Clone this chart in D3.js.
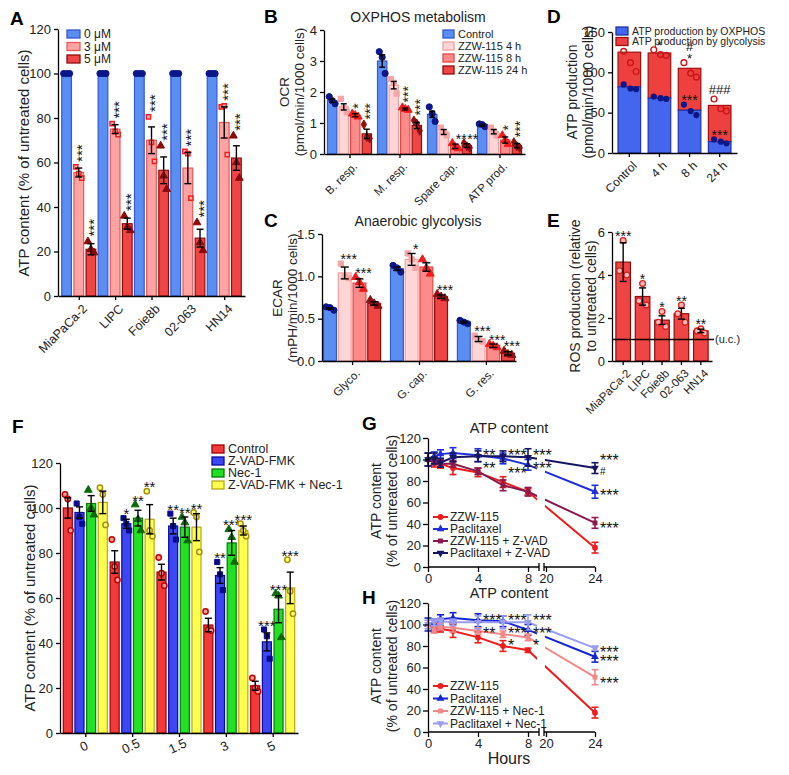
<!DOCTYPE html>
<html><head><meta charset="utf-8">
<script src="https://cdn.jsdelivr.net/npm/d3@7"></script>
<style>
body{margin:0;background:#fff;}
svg{font-family:"Liberation Sans",Arial,sans-serif;}
</style></head><body>
<svg id="fig" width="789" height="775"></svg>
<script>
// ===== Panel A =====
const aLines = ["MiaPaCa-2","LIPC","Foie8b","02-063","HN14"];
const aDoses = ["0 μM","3 μM","5 μM"];
const aMean0 = [100,100,100,100,100];
const aMean3 = [55.5,75,70,57.5,78];
const aMean5 = [21,32.5,56.5,26,62];
const aErr0 = [0,0,0,0,0];
const aErr3 = [2,2,6,7,7];
const aErr5 = [2.5,2.5,6,4,5.5];
const aPts0 = [[100,100,100],[100,100,100],[100,100,100],[100,100,100],[100,100,100]];
const aPts3 = [[58,55,53],[77.5,74,72.5],[80.5,69,60.5],[65,64,44],[85,85.5,63.5]];
const aPts5 = [[24.5,21,19.5],[36,31,29.5],[67.5,54,48],[33,24,20.5],[72,60,53]];
const aStars3 = ["***","***","***","***","***"];
const aStars5 = ["***","***","***","***","***"];
const aTicks = [0,20,40,60,80,100,120];

// ===== Panel B =====
const bGroups = ["B. resp.","M. resp.","Spare cap.","ATP prod."];
const bSeries = ["Control","ZZW-115 4 h","ZZW-115 8 h","ZZW-115 24 h"];
const bMeanC = [1.72,3.0,1.28,0.93];
const bMean4 = [1.52,2.22,0.71,0.72];
const bMean8 = [1.25,1.45,0.25,0.45];
const bMean24 = [0.65,0.92,0.27,0.27];
const bErrC = [0.05,0.2,0.1,0.03];
const bErr4 = [0.1,0.12,0.08,0.07];
const bErr8 = [0.05,0.03,0.07,0.1];
const bErr24 = [0.15,0.1,0.06,0.07];
const bPtsC = [[1.85,1.72,1.62],[3.3,3.12,2.6],[1.52,1.3,1.05],[0.97,0.95,0.88]];
const bPts4 = [[1.78,1.48,1.35],[2.42,2.3,1.95],[0.85,0.7,0.6],[0.85,0.72,0.6]];
const bPts8 = [[1.3,1.25,1.2],[1.5,1.45,1.42],[0.35,0.22,0.18],[0.6,0.45,0.32]];
const bPts24 = [[0.95,0.55,0.5],[1.08,0.98,0.75],[0.35,0.25,0.2],[0.38,0.25,0.2]];
const bStars8 = ["*","***","**","*"];
const bStars24 = ["***","***","**","***"];
const bTicks = [0,1,2,3,4];

// ===== Panel C =====
const cGroups = ["Glyco.","G. cap.","G. res."];
const cMeanC = [0.62,1.09,0.46];
const cMean4 = [1.04,1.2,0.26];
const cMean8 = [0.92,1.11,0.18];
const cMean24 = [0.68,0.76,0.09];
const cErrC = [0.01,0.02,0.01];
const cErr4 = [0.07,0.07,0.03];
const cErr8 = [0.05,0.05,0.02];
const cErr24 = [0.02,0.02,0.02];
const cPtsC = [[0.64,0.63,0.6],[1.13,1.1,1.05],[0.48,0.46,0.44]];
const cPts4 = [[1.15,1.0,0.98],[1.27,1.2,1.1],[0.3,0.25,0.23]];
const cPts8 = [[0.99,0.93,0.85],[1.2,1.1,1.03],[0.2,0.18,0.16]];
const cPts24 = [[0.72,0.68,0.65],[0.79,0.76,0.74],[0.12,0.08,0.07]];
const cStars4 = ["***","*","***"];
const cStars8 = ["***","","***"];
const cStars24 = ["","***","***"];
const cTicks = [0,0.5,1.0,1.5];

// ===== Panel D =====
const dCats = ["Control","4 h","8 h","24 h"];
const dSeries = ["ATP production by OXPHOS","ATP production by glycolysis"];
const dOxphos = [82,68,53,14];
const dGlyco = [43,56,52,45];
const dOxPts = [[85,80,79],[70,68,67],[60,52,47],[17,14,12]];
const dTotPts = [[126,112,101],[128,122,121],[112,99,94],[67,55,52]];
const dStarsTop = [[],["*"],["#","*"],["###"]];
const dStarsOx = ["","","***","***"];
const dTicks = [0,50,100,150];

// ===== Panel E =====
const eCats = ["MiaPaCa-2","LIPC","Foie8b","02-063","HN14"];
const eMean = [4.6,3.0,1.9,2.2,1.4];
const eErr = [0.9,0.4,0.2,0.25,0.08];
const ePts = [[5.6,4.2,4.0],[3.6,2.8,2.6],[2.3,1.8,1.6],[2.6,2.2,1.8],[1.5,1.4,1.3]];
const eStars = ["***","*","*","**","**"];
const eTicks = [0,2,4,6];
const eUC = 1;

// ===== Panel F =====
const fDoses = ["0","0.5","1.5","3","5"];
const fSeries = ["Control","Z-VAD-FMK","Nec-1","Z-VAD-FMK + Nec-1"];
const fMeanCtrl = [100,76,71.5,48,21];
const fMeanZvad = [98,93,92,70,40.5];
const fMeanNec = [102,95.5,91.5,84.5,55];
const fMeanBoth = [102.5,95,91.5,90,64.5];
const fErrCtrl = [4.5,5,3.5,3,2];
const fErrZvad = [2.5,2,3.5,3.5,4];
const fErrNec = [3.5,3.5,4.5,5.5,6];
const fErrBoth = [5,6.5,6,2,7];
const fPtsCtrl = [[106,104,90],[86,74,68],[78,71,65.5],[54,46,45.5],[24.5,20,18.5]];
const fPtsZvad = [[102,96,93],[95.5,93,90],[97.5,92,86],[76,70.5,63.5],[46,43,33]];
const fPtsNec = [[108,100,97],[101.5,95,90],[96,93.5,85.5],[90.5,87,76],[62,61,42.5]];
const fPtsBoth = [[109,106,92.5],[107.5,90,87.5],[98,96,80.5],[93,90,87.5],[77,63,53]];
const fStarsZvad = ["","*","**","**","***"];
const fStarsNec = ["","**","**","***","***"];
const fStarsBoth = ["","**","**","***","***"];
const fTicks = [0,20,40,60,80,100,120];

// ===== Panels G & H =====
const tHours = [0,0.5,1,2,4,6,8,24];
const gNames = ["ZZW-115","Paclitaxel","ZZW-115 + Z-VAD","Paclitaxel + Z-VAD"];
const gZZW = [100,97,96,92,88,79,70,18];
const gZZWErr = [0,4,4,6,4,5,3,5];
const gPac = [100,103,105,106,104,101,95,70];
const gPacErr = [6,4,4,5,6,5,5,6];
const gZZWzvad = [100,98,96,96,89,76,70,41];
const gZZWzvadErr = [0,3,3,3,3,5,4,5];
const gPacZvad = [100,101,97,102,103,103,102,92];
const gPacZvadErr = [6,5,4,4,5,5,8,5];
const gStarT = [4,4,6,6,8,8,24,24,24,24];
const gStarV = [108,95,108,91,108,95,103,89,70,40];
const gStarS = ["**","**","***","***","***","***","***","#","***","***"];

const hNames = ["ZZW-115","Paclitaxel","ZZW-115 + Nec-1","Paclitaxel + Nec-1"];
const hZZW = [100,97,96,94,88,80,76,18];
const hZZWErr = [0,4,3,6,5,5,2,5];
const hPac = [100,100,105,106,104,103,95,70];
const hPacErr = [6,5,4,5,6,5,5,5];
const hZZWnec = [100,95,98,97,94,91,88,51];
const hZZWnecErr = [0,3,3,4,3,3,3,7];
const hPacNec = [100,102,103,102,102,102,102,78];
const hPacNecErr = [4,3,3,3,6,6,7,2];
const hStarT = [4,4,6,6,6,8,8,8,24,24,24];
const hStarV = [108,95,108,95,84,108,95,84,78,69,49];
const hStarS = ["***","**","***","***","*","***","***","*","***","***","***"];
const ghTicksY = [0,20,40,60,80,100,120];
const ghTicksX1 = [0,4,8];
const ghTicksX2 = [20,24];

// ================= drawing =================
const svg = d3.select("#fig");
const FONT = '"Liberation Sans", Arial, sans-serif';

function letter(x,y,t){ svg.append("text").attr("x",x).attr("y",y).text(t)
  .attr("font-size",19).attr("font-weight","bold").attr("fill","#000"); }

function yAxis(g, y, x, ticks, fmt, fs){
  const ax = g.append("g").attr("transform",`translate(${x},0)`)
    .call(d3.axisLeft(y).tickValues(ticks).tickSize(4).tickSizeOuter(0).tickPadding(3).tickFormat(fmt));
  ax.selectAll("path,line").attr("stroke","#000").attr("stroke-width",1.3);
  ax.selectAll("text").attr("font-size",fs).attr("fill","#222").attr("font-family",FONT);
  return ax;
}
function xAxisRot(g, x, y0, fs, angle){
  const ax = g.append("g").attr("transform",`translate(0,${y0})`)
    .call(d3.axisBottom(x).tickSize(4).tickSizeOuter(0));
  ax.selectAll("path,line").attr("stroke","#000").attr("stroke-width",1.3);
  ax.selectAll("text").attr("font-size",fs).attr("fill","#222").attr("font-family",FONT)
    .attr("text-anchor","end").attr("y",0).attr("x",0).attr("dy","0.75em")
    .attr("transform",`translate(2,7) rotate(${angle})`);
  return ax;
}
function yLabel(g, lines, xs, yc, fs){
  lines.forEach((t,i)=>{
    g.append("text").attr("transform",`translate(${xs[i]},${yc}) rotate(-90)`)
      .attr("text-anchor","middle").attr("dy","0.35em").attr("font-size",fs).attr("fill","#222").text(t);
  });
}
function sym(type, size){ return d3.symbol().type(type).size(size)(); }

function starText(g, x, top, t, fs, vertical){
  if(!t) return;
  if(vertical){
    g.append("text").attr("transform",`translate(${x},${top-2}) rotate(-90)`)
      .attr("dy","0.57em").attr("font-size",fs).attr("fill","#111").text(t);
  } else {
    const base = t.includes("#") ? top-2 : top-2+0.4*fs;
    g.append("text").attr("x",x).attr("y",base).attr("text-anchor","middle")
      .attr("font-size",fs).attr("fill","#111").text(t);
  }
}

function groupedBars(g, o){
  const bw = o.sub.bandwidth();
  o.series.forEach((s,j)=>{
    o.cats.forEach((c,i)=>{
      const x0 = o.x(c) + o.sub(j);
      g.append("rect").attr("x",x0+0.5).attr("y",o.y(s.mean[i])).attr("width",bw-1)
        .attr("height",o.y(0)-o.y(s.mean[i])).attr("fill",s.fill).attr("stroke",s.stroke).attr("stroke-width",1.2);
    });
  });
  o.series.forEach((s,j)=>{
    o.cats.forEach((c,i)=>{
      const cx = o.x(c) + o.sub(j) + bw/2;
      const offs = o.offs || [-0.28,0,0.28];
      s.pts[i].forEach((v,k)=>{
        g.append("path").attr("d",sym(s.sym,s.psize))
          .attr("transform",`translate(${cx+offs[k]*bw},${o.y(v)})`)
          .attr("fill",s.pfill).attr("stroke",s.pstroke).attr("stroke-width",s.psw||1);
      });
      const e = s.err[i];
      if(e>0){
        const cw = o.cap || 3;
        const yt=o.y(s.mean[i]+e), yb=o.y(s.mean[i]-e);
        g.append("line").attr("x1",cx).attr("x2",cx).attr("y1",yt).attr("y2",yb).attr("stroke","#000").attr("stroke-width",1.4);
        [yt,yb].forEach(yy=>g.append("line").attr("x1",cx-cw).attr("x2",cx+cw).attr("y1",yy).attr("y2",yy).attr("stroke","#000").attr("stroke-width",1.4));
      }
      if(s.stars){
        const top = Math.min(o.y(s.mean[i]+e), ...s.pts[i].map(v=>o.y(v)-3));
        o.starFn(g, cx, top, s.stars[i], s);
      }
    });
  });
}
function legendBoxes(g, x, y0, dy, items, fs, w, h){
  items.forEach((it,i)=>{
    g.append("rect").attr("x",x).attr("y",y0+i*dy-h/2).attr("width",w).attr("height",h)
      .attr("fill",it.fill).attr("stroke",it.stroke).attr("stroke-width",1.3);
    g.append("text").attr("x",x+w+4).attr("y",y0+i*dy).attr("dy","0.35em")
      .attr("font-size",fs).attr("fill","#222").text(it.name);
  });
}

const cBlue = {fill:"#5b8ef2",stroke:"#3559d0"};
const cPink = {fill:"#ffa3a3",stroke:"#e65a5a"};
const cRed = {fill:"#f04545",stroke:"#8f0c0c"};
const cLt = {fill:"#ffd5d5",stroke:"#f2a0a0"};
const cMid = {fill:"#ff8a8a",stroke:"#e34848"};

// ---------- A ----------
(function(){
  const g = svg.append("g");
  letter(10,25,"A");
  const y = d3.scaleLinear().domain([0,120]).range([296,29]);
  const x = d3.scalePoint().domain(aLines).range([58,245]).padding(0.571);
  const sub = d3.scaleBand().domain([0,1,2]).range([-17.5,17.5]).paddingInner(0.12);
  const vstar = (gg,cx,top,t)=>starText(gg,cx,top,t,15,true);
  groupedBars(g,{cats:aLines,x,sub,y,cap:3.5,starFn:vstar,series:[
    {mean:aMean0,err:aErr0,pts:aPts0,...cBlue,sym:d3.symbolCircle,psize:30,pfill:"#0b168a",pstroke:"#0b168a"},
    {mean:aMean3,err:aErr3,pts:aPts3,...cPink,sym:d3.symbolSquare,psize:18,pfill:"#ffb3b3",pstroke:"#ee2020",psw:1.5,stars:aStars3},
    {mean:aMean5,err:aErr5,pts:aPts5,...cRed,sym:d3.symbolTriangle,psize:26,pfill:"#8a0a0a",pstroke:"#8a0a0a",stars:aStars5}
  ]});
  yAxis(g,y,58,aTicks,d3.format("d"),13);
  xAxisRot(g,x,296,12.5,-45);
  yLabel(g,["ATP content (% of untreated cells)"],[24],163,15);
  legendBoxes(g,67,34,12.5,[{name:aDoses[0],...cBlue},{name:aDoses[1],...cPink},{name:aDoses[2],...cRed}],12,13,8);
})();

// ---------- B ----------
(function(){
  const g = svg.append("g");
  letter(264,23,"B");
  const y = d3.scaleLinear().domain([0,4]).range([154,30]);
  const x = d3.scalePoint().domain(bGroups).range([324,525]).padding(0.51);
  const sub = d3.scaleBand().domain([0,1,2,3]).range([-22.5,22.5]).paddingInner(0.1);
  const st = (gg,cx,top,t)=>{
    if(t==="**") starText(gg,cx+6,top,t,14,false);
    else starText(gg,cx,top,t,14,true);
  };
  groupedBars(g,{cats:bGroups,x,sub,y,cap:3,starFn:st,series:[
    {mean:bMeanC,err:bErrC,pts:bPtsC,...cBlue,sym:d3.symbolCircle,psize:30,pfill:"#0b168a",pstroke:"#0b168a"},
    {mean:bMean4,err:bErr4,pts:bPts4,...cLt,sym:d3.symbolSquare,psize:28,pfill:"#f5a5a5",pstroke:"#f5a5a5"},
    {mean:bMean8,err:bErr8,pts:bPts8,...cMid,sym:d3.symbolTriangle,psize:28,pfill:"#ee1c1c",pstroke:"#ee1c1c",stars:bStars8},
    {mean:bMean24,err:bErr24,pts:bPts24,...cRed,sym:d3.symbolDiamond,psize:24,pfill:"#8f1010",pstroke:"#8f1010",stars:bStars24}
  ]});
  yAxis(g,y,324,bTicks,d3.format("d"),13);
  xAxisRot(g,x,154,11.5,-45);
  yLabel(g,["OCR","(pmol/min/1000 cells)"],[284,299],92,13.5);
  g.append("text").attr("x",418).attr("y",22).attr("text-anchor","middle").attr("font-size",14).attr("fill","#222").text("OXPHOS metabolism");
  legendBoxes(g,443,34,12,bSeries.map((n,i)=>({name:n,...[cBlue,cLt,cMid,cRed][i]})),11,11,8);
})();

// ---------- C ----------
(function(){
  const g = svg.append("g");
  letter(264,227,"C");
  const y = d3.scaleLinear().domain([0,1.5]).range([361,234]);
  const x = d3.scalePoint().domain(cGroups).range([322,516]).padding(0.45);
  const sub = d3.scaleBand().domain([0,1,2,3]).range([-29,29]).paddingInner(0.06);
  const st = (gg,cx,top,t)=>starText(gg,cx+4,top,t,14,false);
  groupedBars(g,{cats:cGroups,x,sub,y,cap:4,starFn:st,series:[
    {mean:cMeanC,err:cErrC,pts:cPtsC,...cBlue,sym:d3.symbolCircle,psize:30,pfill:"#0b168a",pstroke:"#0b168a"},
    {mean:cMean4,err:cErr4,pts:cPts4,...cLt,sym:d3.symbolSquare,psize:28,pfill:"#f5a5a5",pstroke:"#f5a5a5",stars:cStars4},
    {mean:cMean8,err:cErr8,pts:cPts8,...cMid,sym:d3.symbolTriangle,psize:28,pfill:"#ee1c1c",pstroke:"#ee1c1c",stars:cStars8},
    {mean:cMean24,err:cErr24,pts:cPts24,...cRed,sym:d3.symbolTriangle,psize:28,pfill:"#8f1010",pstroke:"#8f1010",stars:cStars24}
  ]});
  yAxis(g,y,322,cTicks,d3.format(".1f"),13);
  xAxisRot(g,x,361,11.5,-45);
  yLabel(g,["ECAR","(mPH/min/1000 cells)"],[277,292],298,13.5);
  g.append("text").attr("x",418).attr("y",226).attr("text-anchor","middle").attr("font-size",14).attr("fill","#222").text("Anaerobic glycolysis");
})();

// ---------- D ----------
(function(){
  const g = svg.append("g");
  letter(547,23,"D");
  const y = d3.scaleLinear().domain([0,150]).range([153,32]);
  const x = d3.scaleBand().domain(dCats).range([612,737]).paddingInner(0.25).paddingOuter(0.2);
  const bw = x.bandwidth();
  const blue = {fill:"#4466ee",stroke:"#2233aa"}, red={fill:"#ef4040",stroke:"#a01010"};
  dCats.forEach((c,i)=>{
    const x0=x(c), tot=dOxphos[i]+dGlyco[i];
    g.append("rect").attr("x",x0).attr("y",y(tot)).attr("width",bw).attr("height",y(dOxphos[i])-y(tot)).attr("fill",red.fill).attr("stroke",red.stroke).attr("stroke-width",1.2);
    g.append("rect").attr("x",x0).attr("y",y(dOxphos[i])).attr("width",bw).attr("height",y(0)-y(dOxphos[i])).attr("fill",blue.fill).attr("stroke",blue.stroke).attr("stroke-width",1.2);
    const cx=x0+bw/2, offs=[-0.25,0.05,0.3];
    dTotPts[i].forEach((v,k)=>g.append("path").attr("d",sym(d3.symbolCircle,26)).attr("transform",`translate(${cx+offs[k]*bw},${y(v)})`).attr("fill","none").attr("stroke","#cc1515").attr("stroke-width",1.4));
    dOxPts[i].forEach((v,k)=>g.append("path").attr("d",sym(d3.symbolCircle,30)).attr("transform",`translate(${cx+offs[k]*bw},${y(v)})`).attr("fill","#0b168a"));
    let cur = Math.min(...dTotPts[i].map(v=>y(v)-3), y(tot));
    dStarsTop[i].slice().reverse().forEach(t=>{
      starText(g,cx,cur,t,13,false);
      cur -= t.includes("#") ? 11 : 7;
    });
    const topO = Math.min(...dOxPts[i].map(v=>y(v)-3));
    starText(g,cx,topO,dStarsOx[i],14,false);
  });
  yAxis(g,y,612,dTicks,d3.format("d"),13);
  xAxisRot(g,x,153,12,-45);
  yLabel(g,["ATP production","(pmol/min/1000 cells)"],[572,588],92,14);
  legendBoxes(g,616,31,10.5,[{name:dSeries[0],...blue},{name:dSeries[1],...red}],10.5,12,8);
})();

// ---------- E ----------
(function(){
  const g = svg.append("g");
  letter(547,227,"E");
  const y = d3.scaleLinear().domain([0,6]).range([361,232]);
  const x = d3.scaleBand().domain(eCats).range([612,712]).paddingInner(0.25).paddingOuter(0.2);
  const bw=x.bandwidth();
  eCats.forEach((c,i)=>{
    const x0=x(c), cx=x0+bw/2;
    g.append("rect").attr("x",x0).attr("y",y(eMean[i])).attr("width",bw).attr("height",y(0)-y(eMean[i])).attr("fill","#ef4545").attr("stroke","#8f0c0c").attr("stroke-width",1.2);
    const offs=[0,-0.25,0.25];
    ePts[i].forEach((v,k)=>g.append("path").attr("d",sym(d3.symbolCircle,26)).attr("transform",`translate(${cx+offs[k]*bw},${y(v)})`).attr("fill","#ffbcbc").attr("stroke","#dd1a1a").attr("stroke-width",1.3));
    const yt=y(eMean[i]+eErr[i]), yb=y(eMean[i]-eErr[i]);
    g.append("line").attr("x1",cx).attr("x2",cx).attr("y1",yt).attr("y2",yb).attr("stroke","#000").attr("stroke-width",1.4);
    [yt,yb].forEach(yy=>g.append("line").attr("x1",cx-3.5).attr("x2",cx+3.5).attr("y1",yy).attr("y2",yy).attr("stroke","#000").attr("stroke-width",1.4));
    const top=Math.min(yt,...ePts[i].map(v=>y(v)-3));
    starText(g,cx,top,eStars[i],14,false);
  });
  g.append("line").attr("x1",612).attr("x2",714).attr("y1",y(eUC)).attr("y2",y(eUC)).attr("stroke","#000").attr("stroke-width",1.3);
  g.append("text").attr("x",715).attr("y",y(eUC)).attr("dy","0.35em").attr("font-size",11).attr("fill","#222").text("(u.c.)");
  yAxis(g,y,612,eTicks,d3.format("d"),13);
  xAxisRot(g,x,361,11.5,-45);
  yLabel(g,["ROS production (relative","to untreated cells)"],[575,591],296,14);
})();

// ---------- F ----------
(function(){
  const g = svg.append("g");
  letter(12,433,"F");
  const y = d3.scaleLinear().domain([0,120]).range([733,463]);
  const x = d3.scalePoint().domain(fDoses).range([60,298]).padding(0.54);
  const sub = d3.scaleBand().domain([0,1,2,3]).range([-22.5,22.5]).paddingInner(0.14);
  const cols = [{fill:"#f23a3a",stroke:"#a00000"},{fill:"#3c46f2",stroke:"#0a0aa0"},{fill:"#22e022",stroke:"#0a7a0a"},{fill:"#ffff50",stroke:"#b8a818"}];
  const st=(gg,cx,top,t)=>starText(gg,cx,top,t,15,false);
  groupedBars(g,{cats:fDoses,x,sub,y,cap:3.5,starFn:st,series:[
    {mean:fMeanCtrl,err:fErrCtrl,pts:fPtsCtrl,...cols[0],sym:d3.symbolCircle,psize:22,pfill:"#ff9a9a",pstroke:"#c00000",psw:1.5},
    {mean:fMeanZvad,err:fErrZvad,pts:fPtsZvad,...cols[1],sym:d3.symbolSquare,psize:26,pfill:"#0a0a8c",pstroke:"#0a0a8c",stars:fStarsZvad},
    {mean:fMeanNec,err:fErrNec,pts:fPtsNec,...cols[2],sym:d3.symbolTriangle,psize:26,pfill:"#0a6a0a",pstroke:"#0a6a0a",stars:fStarsNec},
    {mean:fMeanBoth,err:fErrBoth,pts:fPtsBoth,...cols[3],sym:d3.symbolCircle,psize:22,pfill:"#ffff80",pstroke:"#a89000",psw:1.5,stars:fStarsBoth}
  ]});
  yAxis(g,y,60,fTicks,d3.format("d"),13);
  const ax = g.append("g").attr("transform","translate(0,733)").call(d3.axisBottom(x).tickSize(4).tickSizeOuter(0));
  ax.selectAll("path,line").attr("stroke","#000").attr("stroke-width",1.3);
  ax.selectAll("text").attr("font-size",13).attr("fill","#222").attr("y",0).attr("dy","0.35em")
    .attr("text-anchor","middle").attr("transform","translate(-2,13) rotate(-25)");
  yLabel(g,["ATP content (% of untreated cells)"],[30],598,15);
  legendBoxes(g,212,449,12,fSeries.map((n,i)=>({name:n,...cols[i]})),12.5,12,8);
})();

// ---------- G & H ----------
function linePanel(o){
  const g = svg.append("g");
  letter(o.lx,o.ly,o.letter);
  const y = d3.scaleLinear().domain([0,120]).range([o.y0,o.y0-129]);
  const x1 = d3.scaleLinear().domain([0,8]).range([428,528]);
  const x2 = d3.scaleLinear().domain([20,24]).range([546,595]);
  const xf = t => t<=8 ? x1(t) : x2(t);
  o.series.forEach(s=>{
    g.append("path").datum(tHours.map((t,i)=>[xf(t),y(s.v[i])]))
      .attr("d",d3.line()).attr("fill","none").attr("stroke",s.c).attr("stroke-width",2);
  });
  g.append("rect").attr("x",537).attr("y",o.y0-135).attr("width",8).attr("height",135).attr("fill","#fff");
  o.series.forEach(s=>{
    tHours.forEach((t,i)=>{
      const cx=xf(t), e=s.e[i];
      if(e>0){
        const yt=y(s.v[i]+e), yb=y(s.v[i]-e);
        g.append("line").attr("x1",cx).attr("x2",cx).attr("y1",yt).attr("y2",yb).attr("stroke",s.c).attr("stroke-width",1.6);
        [yt,yb].forEach(yy=>g.append("line").attr("x1",cx-3.5).attr("x2",cx+3.5).attr("y1",yy).attr("y2",yy).attr("stroke",s.c).attr("stroke-width",1.6));
      }
      g.append("path").attr("d",sym(s.sym,s.size)).attr("transform",`translate(${cx},${y(s.v[i])})${s.flip?' rotate(180)':''}`).attr("fill",s.c);
    });
  });
  o.starT.forEach((t,i)=>{
    const isHash = o.starS[i]==="#";
    const fs = isHash ? 10 : 16;
    g.append("text").attr("x",xf(t)+5).attr("y",y(o.starV[i])).attr("dy",isHash?"0.35em":"0.6em")
      .attr("font-size",fs).attr("fill","#111").text(o.starS[i]);
  });
  const ya = g.append("g").attr("transform","translate(428,0)")
    .call(d3.axisLeft(y).tickValues(ghTicksY).tickSize(5).tickSizeOuter(0).tickPadding(2).tickFormat(d3.format("d")));
  ya.selectAll("path,line").attr("stroke","#000").attr("stroke-width",1.3);
  ya.selectAll("text").attr("font-size",13).attr("fill","#222");
  [[x1,ghTicksX1,[428,539]],[x2,ghTicksX2,[544,595]]].forEach(([sc,tv,rg])=>{
    const a = g.append("g").attr("transform",`translate(0,${o.y0})`)
      .call(d3.axisBottom(sc).tickValues(tv).tickSize(5).tickSizeOuter(0).tickPadding(2).tickFormat(d3.format("d")));
    a.select("path").attr("d",`M${rg[0]},0H${rg[1]}`);
    a.selectAll("path,line").attr("stroke","#000").attr("stroke-width",1.3);
    a.selectAll("text").attr("font-size",13).attr("fill","#222");
  });
  [539,544].forEach(bx=>g.append("line").attr("x1",bx).attr("x2",bx).attr("y1",o.y0-4).attr("y2",o.y0+4).attr("stroke","#000").attr("stroke-width",1.3));
  g.append("text").attr("x",509).attr("y",o.y0-134).attr("text-anchor","middle").attr("font-size",14.5).attr("fill","#222").text("ATP content");
  yLabel(g,["ATP content","(% of untreated cells)"],[376,392],o.y0-66,14);
  o.series.forEach((s,i)=>{
    const ly=o.legY+i*o.legDy;
    g.append("line").attr("x1",433).attr("x2",448).attr("y1",ly).attr("y2",ly).attr("stroke",s.c).attr("stroke-width",2);
    g.append("path").attr("d",sym(s.sym,s.size)).attr("transform",`translate(440.5,${ly})${s.flip?' rotate(180)':''}`).attr("fill",s.c);
    g.append("text").attr("x",450).attr("y",ly).attr("dy","0.35em").attr("font-size",12).attr("fill","#222").text(s.name);
  });
  if(o.xlabel) g.append("text").attr("x",509).attr("y",o.y0+32).attr("text-anchor","middle").attr("font-size",16).attr("fill","#222").text(o.xlabel);
}
linePanel({letter:"G",lx:362,ly:430,y0:567,legY:517,legDy:12,starT:gStarT,starV:gStarV,starS:gStarS,series:[
  {name:gNames[0],v:gZZW,e:gZZWErr,c:"#ee1c1c",sym:d3.symbolCircle,size:26},
  {name:gNames[1],v:gPac,e:gPacErr,c:"#1f2fd8",sym:d3.symbolTriangle,size:26},
  {name:gNames[2],v:gZZWzvad,e:gZZWzvadErr,c:"#8a1a4e",sym:d3.symbolSquare,size:24},
  {name:gNames[3],v:gPacZvad,e:gPacZvadErr,c:"#161660",sym:d3.symbolTriangle,size:26,flip:true}
]});
linePanel({letter:"H",lx:362,ly:604,y0:732,legY:686,legDy:12.5,xlabel:"Hours",starT:hStarT,starV:hStarV,starS:hStarS,series:[
  {name:hNames[0],v:hZZW,e:hZZWErr,c:"#ee1c1c",sym:d3.symbolCircle,size:26},
  {name:hNames[1],v:hPac,e:hPacErr,c:"#1424d4",sym:d3.symbolTriangle,size:26},
  {name:hNames[2],v:hZZWnec,e:hZZWnecErr,c:"#f28888",sym:d3.symbolSquare,size:24},
  {name:hNames[3],v:hPacNec,e:hPacNecErr,c:"#9a9cf2",sym:d3.symbolTriangle,size:26,flip:true}
]});
</script></body></html>
